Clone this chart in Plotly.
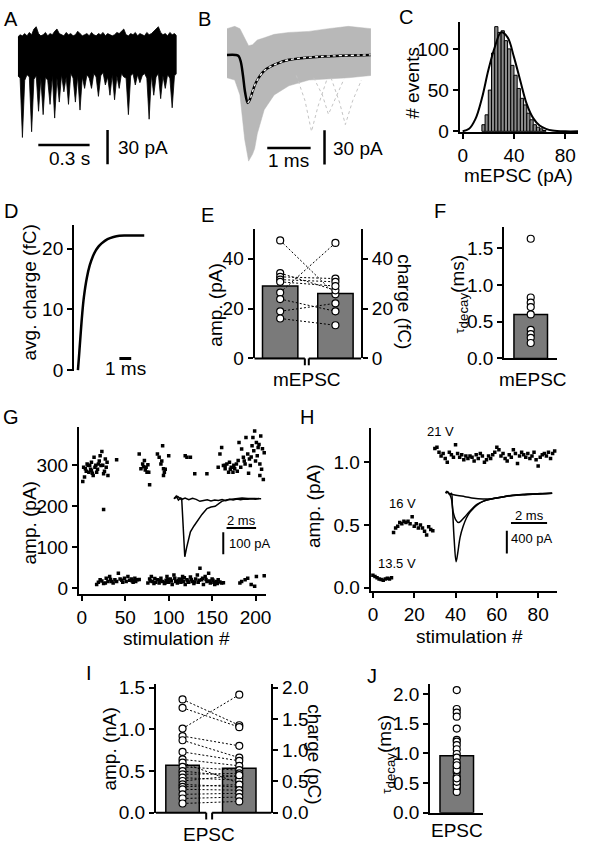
import plotly.graph_objects as go

W, H = 589, 853
FONT = "Liberation Sans, Arial, Helvetica, sans-serif"

# ================= DATA =================
# A: continuous recording (envelope of the noisy trace); time step in s, current in pA
A_DT = 0.93 / 69
A_UPPER = [14,16,15,17,15,18,16,21,23,17,15,16,18,15,17,16,19,21,17,16,
           15,18,16,17,15,16,19,17,15,16,17,15,18,16,15,17,16,18,15,17,
           16,15,16,18,17,19,21,16,15,17,16,18,15,17,16,15,18,16,17,19,
           21,23,18,16,17,15,18,16,17,15]
A_LOWER = [-20,-22,-74,-24,-19,-21,-69,-23,-20,-51,-22,-54,-21,-24,-45,-20,-57,-22,-43,-19,
           -34,-21,-45,-18,-22,-43,-20,-50,-21,-31,-19,-22,-31,-18,-21,-38,-20,-17,-28,-21,
           -37,-19,-41,-20,-31,-18,-21,-22,-54,-20,-18,-28,-19,-26,-20,-18,-22,-58,-19,-37,
           -21,-18,-40,-20,-31,-19,-22,-48,-20,-18]

# B: overlaid mEPSCs (ms, pA)
B_ENV_T = [0, 0.18, 0.30, 0.41, 0.50, 0.59, 0.64, 0.70, 0.86, 1.09, 1.43, 1.89, 2.34, 2.80, 3.32]
B_ENV_UP = [23, 25, 23, 15, 8, 9, 11, 13, 15, 18, 19.7, 20.6, 23, 25, 23]
B_ENV_LO = [-20, -22, -35, -74, -93, -87, -82, -69, -48, -35, -27, -22, -21, -20, -18]
B_MEAN_T = [0, 0.20, 0.27, 0.32, 0.37, 0.42, 0.48, 0.53, 0.60, 0.675, 0.864, 1.13, 1.43, 2.18, 3.32]
B_MEAN_I = [0, 0, -1, -6, -18, -33, -42, -39, -31, -23.7, -13.7, -8, -4.3, -1.4, 0]
B_FIT_T = [0.48, 0.53, 0.60, 0.675, 0.864, 1.13, 1.43, 2.18, 3.32]
B_FIT_I = [-42, -39, -31, -23.7, -13.7, -8, -4.3, -1.4, 0]
B_EVENTS = [
    ([1.60, 1.80, 1.95, 2.10, 2.30], [-18, -40, -67, -45, -22]),
    ([2.00, 2.20, 2.34, 2.50, 2.70], [-20, -35, -52, -38, -21]),
    ([2.40, 2.60, 2.73, 2.90, 3.10], [-20, -42, -61, -40, -22]),
]

# C: amplitude histogram
C_BIN = [16.25, 18.75, 21.25, 23.75, 26.25, 28.75, 31.25, 33.75, 36.25, 38.75,
         41.25, 43.75, 46.25, 48.75, 51.25, 53.75, 56.25, 58.75, 61.25, 63.75]
C_COUNT = [8, 20, 50, 95, 127, 120, 122, 110, 100, 80, 68, 52, 40, 32, 22, 14, 8, 5, 3, 1]
C_FIT_X = [0, 5, 10, 15, 20, 25, 30, 35, 40, 45, 50, 55, 60, 65, 70, 80, 90]
C_FIT_Y = [0, 3, 15, 40, 74, 102, 120, 114, 90, 61, 33, 16, 7, 3, 1, 0, 0]

# D: average charge (ms, fC)
D_T = [0, 0.1, 0.2, 0.35, 0.5, 0.75, 1.0, 1.25, 1.5, 1.75, 2.0, 2.5, 3.0, 3.5, 4.0, 5.6]
D_Q = [0, 2.5, 5.2, 9, 12, 15.2, 17.3, 18.7, 19.7, 20.4, 20.9, 21.6, 21.95, 22.15, 22.2, 22.2]

# E: mEPSC amplitude (pA) and charge (fC) per cell
E_AMP = [47.3, 34.2, 32.7, 31.6, 30.7, 26.4, 23.8, 18.9, 16.0]
E_CHARGE = [25.7, 27.3, 32.0, 30.7, 29.0, 46.3, 18.9, 22.1, 13.3]
E_MEAN = [29, 26]
E_SEM = [2.8, 3.0]

# F: mEPSC decay (ms)
F_TAU = [1.63, 0.83, 0.76, 0.70, 0.60, 0.39, 0.33, 0.28, 0.21]
F_MEAN, F_SEM = 0.6, 0.08

# G: minimal stimulation (stim #, pA)
G_POINTS = [(1,260),(3,271),(4,291),(6,303),(8,283),(9,299),(11,307),(11,287),(13,275),(15,295),
            (14,319),(17,283),(19,303),(21,323),(23,333),(22,299),(25,279),(27,315),(28,295),(30,275),
            (29,307),(25,192),(40,313),(66,327),(68,291),(70,303),(72,311),(74,295),(75,283),(76,301),
            (77,283),(78,252),(87,327),(89,319),(91,303),(93,347),(94,291),(95,283),(94,275),(100,323),
            (119,323),(121,319),(125,319),(130,279),(144,279),(159,327),(161,343),(157,295),(163,299),(165,291),
            (167,303),(169,283),(170,307),(172,295),(174,283),(176,291),(178,303),(180,311),(181,355),(184,339),
            (186,319),(188,303),(189,367),(191,327),(193,315),(194,299),(196,347),(197,367),(199,383),(201,355),
            (202,323),(203,343),(205,275),(206,371),(205,303),
            (2,295),(5,285),(7,300),(10,290),(12,280),(16,300),(18,290),(20,310),(24,300),(26,285),
            (165,300),(171,290),(175,300),(179,285),(183,295),(187,310),(192,280),(195,320),(198,335),
            (200,310),(204,350),(208,340),(207,290),(209,265),(210,330),(73,288),(71,296),(96,290),(92,310),
            (17,9.5),(19,15),(21,21),(27,13.5),(28,25),(30,17),(32,29),(34,17),(36,13.5),(38,21),
            (40,17),(42,37),(44,23),(47,15),(49,25),(51,17),(53,29),(55,20),(57,23),(59,15),
            (61,25),(62,17),(64,21),(76,13.5),(78,23),(80,29),(81,17),(83,12),(85,15),(87,21),
            (89,13.5),(91,25),(93,17),(95,12),(97,20),(98,29),(100,15),(102,23),(104,9.5),(106,33),
            (108,17),(110,13.5),(112,23),(114,15),(116,29),(117,17),(119,9.5),(121,21),(123,15),(125,28),
            (127,17),(129,12),(131,23),(133,33),(134,15),(136,49),(138,21),(140,9.5),(142,29),(144,17),
            (146,37),(148,13.5),(150,23),(152,15),(153,9.5),(155,17),(157,21),(161,13.5),(182,13.5),(184,17),
            (188,21),(191,25),(195,9.5),(199,5.5),(201,29),(210,31),
            (23,18),(25,12),(33,22),(46,20),(58,18),(66,22),(79,18),(84,24),(90,19),(96,14),
            (99,22),(103,18),(107,25),(111,19),(115,21),(118,26),(122,18),(126,22),(130,16),(135,20),
            (139,25),(143,22),(147,18),(151,20),(156,12),(159,16),(163,14)]
# G inset (ms, pA)
GI_EPSC_T = [0, 0.15, 0.3, 0.45, 0.52, 0.62, 0.73, 0.85, 1.11, 1.35, 1.56, 1.89, 2.23, 2.5, 2.78, 3.0, 3.23, 3.6, 4.1, 4.6, 5.0, 5.5, 5.9]
GI_EPSC_I = [0, 12, -6, 3, 0, -130, -266, -225, -152, -125, -102, -72, -45, -38, -35, -25, -12, -5, 0, 3, 1, 2, 0]
GI_FAIL_T = [0, 0.25, 0.5, 0.75, 1.0, 1.25, 1.5, 1.75, 2.0, 2.25, 2.5, 2.75, 3.0, 3.25, 3.5, 3.75, 4.0, 4.25, 4.5, 4.75, 5.0, 5.25, 5.5, 5.75]
GI_FAIL_I = [0, 10, -4, 3, -5, 2, -3, -12, -8, -5, -10, -6, -8, -4, -9, -3, -6, -2, -5, -1, -3, 0, -2, 1]

# H: increasing stimulation strength (nA)
H_AMP_13V = [0.10, 0.09, 0.08, 0.07, 0.065, 0.06, 0.07, 0.075, 0.07, 0.08]
H_AMP_16V = [0.44, 0.475, 0.49, 0.52, 0.51, 0.53, 0.52, 0.53, 0.51, 0.565,
             0.49, 0.51, 0.475, 0.50, 0.475, 0.45, 0.42, 0.485, 0.465, 0.455]
H_AMP_21V = [1.11, 1.12, 1.08, 1.05, 1.07, 1.03, 1.00, 1.08, 1.06, 1.04,
             1.14, 1.07, 1.04, 1.06, 1.02, 1.05, 1.03, 1.05, 1.04, 1.01,
             1.06, 1.03, 1.07, 1.05, 1.00, 1.02, 1.05, 1.03, 1.06, 1.08,
             1.12, 1.10, 1.05, 1.07, 1.03, 1.01, 1.06, 1.04, 1.10, 1.07,
             0.99, 1.05, 1.08, 1.06, 1.04, 1.07, 1.03, 1.05, 1.08, 1.02,
             0.97, 1.04, 1.06, 1.07, 1.05, 1.08, 1.03, 1.07, 1.09]
# H inset (ms, pA)
HI_BIG_T = [-0.05, 0, 0.15, 0.25, 0.3, 0.4, 0.51, 0.6, 0.73, 0.9, 1.09, 1.28, 1.46, 1.7, 2.0, 2.4, 2.91, 3.4, 3.83, 4.3, 4.74, 5.3, 5.83]
HI_BIG_I = [0, 30, -20, 0, -200, -800, -1200, -1050, -772, -580, -429, -330, -268, -200, -143, -105, -74, -50, -34, -25, -17, -8, 0]
HI_MED_T = [-0.05, 0, 0.15, 0.25, 0.35, 0.5, 0.65, 0.8, 1.0, 1.28, 1.64, 2.0, 2.4, 2.91, 3.4, 3.83, 4.3, 4.74, 5.3, 5.83]
HI_MED_I = [0, 30, -20, -100, -330, -470, -515, -480, -410, -310, -200, -143, -105, -74, -50, -34, -25, -17, -8, 0]
HI_FAIL_T = [-0.05, 0, 0.15, 0.3, 0.6, 1.0, 1.5, 2.0, 2.5, 3.0, 3.5, 4.0, 4.5, 5.0, 5.5, 5.83]
HI_FAIL_I = [0, 30, -10, -20, -40, -60, -90, -100, -95, -70, -40, -25, -15, -8, -3, 0]

# I: EPSC amplitude (nA) and charge (pC)
I_AMP = [1.36, 1.26, 1.01, 0.92, 0.87, 0.73, 0.64, 0.60, 0.55, 0.50, 0.46, 0.42, 0.38, 0.34, 0.31, 0.28, 0.22, 0.17, 0.11]
I_CHARGE = [1.40, 1.37, 1.89, 1.07, 0.88, 0.83, 0.75, 0.47, 0.68, 0.57, 0.63, 0.52, 0.60, 0.41, 0.45, 0.36, 0.31, 0.25, 0.18]
I_MEAN_AMP, I_SEM_AMP = 0.57, 0.08
I_MEAN_CHARGE, I_SEM_CHARGE = 0.71, 0.1
I_AXIS_RATIO = 2.0 / 1.5   # right axis (pC) per left axis (nA)

# J: EPSC decay (ms)
J_TAU = [2.07, 1.75, 1.69, 1.62, 1.42, 1.23, 1.20, 1.14, 1.07, 0.99, 0.93, 0.85, 0.77, 0.68,
         0.61, 0.55, 0.48, 0.41, 0.35, 0.45, 0.52, 0.58, 0.72, 0.80]
J_MEAN, J_SEM = 0.96, 0.09

# ================= helpers =================
def xd(a, b):
    return [a / W, b / W]

def yd(top, bot):
    return [1 - bot / H, 1 - top / H]

BASE = dict(showgrid=False, zeroline=False, fixedrange=True)
LINE = dict(showline=True, linewidth=2, linecolor="black", ticks="outside", ticklen=5,
            tickwidth=2, tickcolor="black", tickfont=dict(family=FONT, size=19, color="black"))
HID = dict(visible=False)

def pann(text, x, y, size=19, angle=0, xanchor="center"):
    return dict(text=text, x=x / W, y=1 - y / H, xref="paper", yref="paper", showarrow=False,
                font=dict(family=FONT, size=size, color="black"), textangle=angle,
                xanchor=xanchor, yanchor="middle")

def dann(text, x, y, xa, ya, size=19, xanchor="center"):
    return dict(text=text, x=x, y=y, xref=xa, yref=ya, showarrow=False,
                font=dict(family=FONT, size=size, color="black"), xanchor=xanchor, yanchor="middle")

def seg(x0, y0, x1, y1, xa, ya, width=2.5):
    return dict(type="line", x0=x0, y0=y0, x1=x1, y1=y1, xref=xa, yref=ya,
                line=dict(color="black", width=width))

def pseg(x0, y0, x1, y1, width=2):
    return dict(type="line", x0=x0 / W, y0=1 - y0 / H, x1=x1 / W, y1=1 - y1 / H,
                xref="paper", yref="paper", line=dict(color="black", width=width))

fig = go.Figure()
shapes, anns = [], []

# ---- A ----
A_T = [i * A_DT for i in range(len(A_UPPER))]
fig.add_trace(go.Scatter(x=A_T + A_T[::-1], y=A_UPPER + A_LOWER[::-1], fill="toself",
                         fillcolor="black", line=dict(color="black", width=0.8),
                         mode="lines", xaxis="x", yaxis="y"))
shapes += [seg(0.12, -80.6, 0.42, -80.6, "x", "y"), seg(0.525, -67.5, 0.525, -97.5, "x", "y")]
anns += [dann("0.3 s", 0.30, -92.6, "x", "y"), dann("30 pA", 0.577, -83, "x", "y", xanchor="left")]

# ---- B ----
fig.add_trace(go.Scatter(x=B_ENV_T + B_ENV_T[::-1], y=B_ENV_UP + B_ENV_LO[::-1], fill="toself",
                         fillcolor="#b8b8b8", line=dict(color="#b8b8b8", width=0.5),
                         mode="lines", xaxis="x2", yaxis="y2"))
for et, ei in B_EVENTS:
    fig.add_trace(go.Scatter(x=et, y=ei, mode="lines", line=dict(color="#c4c4c4", width=1, dash="dot"),
                             xaxis="x2", yaxis="y2"))
fig.add_trace(go.Scatter(x=B_MEAN_T, y=B_MEAN_I, mode="lines", line=dict(color="black", width=2.5, shape="spline"),
                         xaxis="x2", yaxis="y2"))
fig.add_trace(go.Scatter(x=B_FIT_T, y=B_FIT_I, mode="lines",
                         line=dict(color="white", width=1.3, dash="3px,3px", shape="spline"),
                         xaxis="x2", yaxis="y2"))
shapes += [seg(0.93, -81.4, 1.93, -81.4, "x2", "y2"), seg(2.25, -66, 2.25, -96, "x2", "y2")]
anns += [dann("1 ms", 1.43, -92.6, "x2", "y2"), dann("30 pA", 2.41, -82, "x2", "y2", xanchor="left")]

# ---- C ----
fig.add_trace(go.Bar(x=C_BIN, y=C_COUNT, width=2.5, marker=dict(color="#8a8a8a", line=dict(color="black", width=1)),
                     xaxis="x3", yaxis="y3"))
fig.add_trace(go.Scatter(x=C_FIT_X, y=C_FIT_Y, mode="lines", line=dict(color="black", width=2, shape="spline"),
                         xaxis="x3", yaxis="y3"))

# ---- D ----
fig.add_trace(go.Scatter(x=D_T, y=D_Q, mode="lines", line=dict(color="black", width=2.5, shape="spline"),
                         xaxis="x4", yaxis="y4"))
shapes += [seg(3.5, 1.94, 4.5, 1.94, "x4", "y4", 3)]
anns += [dann("1 ms", 4.0, 0.25, "x4", "y4")]

# ---- E ----
BAR_STYLE = dict(color="#7a7a7a", line=dict(color="black", width=1.5))
def err(v):
    return dict(type="data", array=[v], arrayminus=[0], symmetric=False, color="black", thickness=1.5, width=0)

fig.add_trace(go.Bar(x=[0], y=[E_MEAN[0]], width=0.64, marker=BAR_STYLE, error_y=err(E_SEM[0]),
                     xaxis="x5", yaxis="y5"))
fig.add_trace(go.Bar(x=[1], y=[E_MEAN[1]], width=0.64, marker=BAR_STYLE, error_y=err(E_SEM[1]),
                     xaxis="x5", yaxis="y5"))
ex, ey = [], []
for a, c in zip(E_AMP, E_CHARGE):
    ex += [0, 1, None]
    ey += [a, c, None]
fig.add_trace(go.Scatter(x=ex, y=ey, mode="lines", line=dict(color="black", width=1, dash="2px,2px"),
                         xaxis="x5", yaxis="y5"))
MK = dict(symbol="circle", size=7, color="white", line=dict(color="black", width=1.2))
fig.add_trace(go.Scatter(x=[0] * len(E_AMP), y=E_AMP, mode="markers", marker=MK, xaxis="x5", yaxis="y5"))
fig.add_trace(go.Scatter(x=[1] * len(E_CHARGE), y=E_CHARGE, mode="markers", marker=MK, xaxis="x5", yaxis="y6"))

# ---- F ----
fig.add_trace(go.Bar(x=[0], y=[F_MEAN], width=0.63, marker=BAR_STYLE, error_y=err(F_SEM),
                     xaxis="x6", yaxis="y7"))
fig.add_trace(go.Scatter(x=[0] * len(F_TAU), y=F_TAU, mode="markers", marker=MK, xaxis="x6", yaxis="y7"))

# ---- G ----
fig.add_trace(go.Scatter(x=[p[0] for p in G_POINTS], y=[p[1] for p in G_POINTS], mode="markers",
                         marker=dict(symbol="square", size=3.5, color="black"), xaxis="x7", yaxis="y8"))
fig.add_trace(go.Scatter(x=GI_FAIL_T, y=GI_FAIL_I, mode="lines", line=dict(color="black", width=1.5),
                         xaxis="x8", yaxis="y9"))
fig.add_trace(go.Scatter(x=GI_EPSC_T, y=GI_EPSC_I, mode="lines", line=dict(color="black", width=1.5),
                         xaxis="x8", yaxis="y9"))
shapes += [seg(3.55, -134.5, 5.55, -134.5, "x8", "y9", 2), seg(3.33, -154, 3.33, -254, "x8", "y9", 2)]
anns += [dann("2 ms", 4.55, -98, "x8", "y9", 13), dann("100 pA", 3.55, -204, "x8", "y9", 13, "left")]

# ---- H ----
h_amp = H_AMP_13V + H_AMP_16V + H_AMP_21V
fig.add_trace(go.Scatter(x=list(range(len(h_amp))), y=h_amp, mode="markers",
                         marker=dict(symbol="square", size=3.5, color="black"), xaxis="x9", yaxis="y10"))
for tt, ii in [(HI_FAIL_T, HI_FAIL_I), (HI_MED_T, HI_MED_I), (HI_BIG_T, HI_BIG_I)]:
    fig.add_trace(go.Scatter(x=tt, y=ii, mode="lines", line=dict(color="black", width=1.5, shape="spline"),
                             xaxis="x10", yaxis="y11"))
shapes += [seg(3.55, -520, 5.55, -520, "x10", "y11", 2), seg(3.32, -657, 3.32, -1057, "x10", "y11", 2)]
anns += [dann("2 ms", 4.55, -385, "x10", "y11", 13), dann("400 pA", 3.45, -800, "x10", "y11", 13, "left")]
anns += [dann("21 V", 32.6, 1.245, "x9", "y10", 13), dann("16 V", 14.3, 0.675, "x9", "y10", 13),
         dann("13.5 V", 11.9, 0.19, "x9", "y10", 13)]

# ---- I ----
fig.add_trace(go.Bar(x=[0], y=[I_MEAN_AMP], width=0.59, marker=BAR_STYLE, error_y=err(I_SEM_AMP),
                     xaxis="x11", yaxis="y12"))
fig.add_trace(go.Bar(x=[1], y=[I_MEAN_CHARGE / I_AXIS_RATIO], width=0.59, marker=BAR_STYLE,
                     error_y=err(I_SEM_CHARGE / I_AXIS_RATIO), xaxis="x11", yaxis="y12"))
ix, iy = [], []
for a, c in zip(I_AMP, I_CHARGE):
    ix += [0, 1, None]
    iy += [a, c / I_AXIS_RATIO, None]
fig.add_trace(go.Scatter(x=ix, y=iy, mode="lines", line=dict(color="black", width=1, dash="2px,2px"),
                         xaxis="x11", yaxis="y12"))
fig.add_trace(go.Scatter(x=[0] * len(I_AMP), y=I_AMP, mode="markers", marker=MK, xaxis="x11", yaxis="y12"))
fig.add_trace(go.Scatter(x=[1] * len(I_CHARGE), y=[c / I_AXIS_RATIO for c in I_CHARGE], mode="markers",
                         marker=MK, xaxis="x11", yaxis="y12"))
fig.add_trace(go.Scatter(x=[], y=[], xaxis="x11", yaxis="y13"))

# ---- J ----
fig.add_trace(go.Bar(x=[0], y=[J_MEAN], width=0.63, marker=BAR_STYLE, error_y=err(J_SEM),
                     xaxis="x12", yaxis="y14"))
fig.add_trace(go.Scatter(x=[0] * len(J_TAU), y=J_TAU, mode="markers", marker=MK, xaxis="x12", yaxis="y14"))

# ---- broken x axes (E, I) ----
shapes += [pseg(255, 359, 306, 359), pseg(310, 359, 363, 359), pseg(306, 359, 306, 366), pseg(310, 359, 310, 366)]
shapes += [pseg(155, 823, 206, 823), pseg(212, 823, 272, 823), pseg(206, 823, 206, 830), pseg(212, 823, 212, 830)]

# ---- titles & panel letters ----
tau = "<span style='font-size:13px'>τ</span><sub>decay</sub>(ms)"
anns += [
    pann("# events", 415, 77, angle=-90), pann("mEPSC (pA)", 523, 172),
    pann("avg. charge (fC)", 27, 292, angle=-90),
    pann("amp. (pA)", 215, 305, angle=-90), pann("charge (fC)", 407, 301, angle=90),
    pann("mEPSC", 308, 381), pann("mEPSC", 537, 381),
    pann(tau, 462, 293, angle=-90),
    pann("amp. (pA)", 27, 527, angle=-90), pann("stimulation #", 176, 645),
    pann("amp. (pA)", 315, 510, angle=-90), pann("stimulation #", 473, 643),
    pann("amp. (nA)", 107, 758, angle=-90), pann("charge (pC)", 315, 763, angle=90),
    pann("EPSC", 209, 845), pann("EPSC", 460, 841),
    pann(tau, 388, 763, angle=-90),
]
for letter, x, y in [("A", 8, 12), ("B", 204, 12), ("C", 409, 10), ("D", 8, 208), ("E", 207, 212),
                     ("F", 443, 208), ("G", 8, 419), ("H", 308, 419), ("I", 87, 680), ("J", 374, 683)]:
    anns.append(pann(letter, x, y, size=20))

layout = dict(
    width=W, height=H, margin=dict(l=0, r=0, t=0, b=0), paper_bgcolor="white", plot_bgcolor="rgba(0,0,0,0)",
    showlegend=False, barmode="overlay", font=dict(family=FONT, color="black"),
    shapes=shapes, annotations=anns,
    # A
    xaxis=dict(BASE, **HID, domain=xd(15, 176), range=[0, 0.929], anchor="y"),
    yaxis=dict(BASE, **HID, domain=yd(15, 162), range=[-98.6, 27.4], anchor="x"),
    # B
    xaxis2=dict(BASE, **HID, domain=xd(227, 373), range=[0, 3.32], anchor="y2"),
    yaxis2=dict(BASE, **HID, domain=yd(15, 162), range=[-96.9, 29.1], anchor="x2"),
    # C
    xaxis3=dict(BASE, **LINE, domain=xd(463, 583), range=[-2.3, 90], tickvals=[0, 40, 80], anchor="y3"),
    yaxis3=dict(BASE, **LINE, domain=yd(15, 128), range=[-1.2, 133], tickvals=[0, 50, 100], anchor="x3"),
    # D
    xaxis4=dict(BASE, **HID, domain=xd(72, 145), range=[-0.33, 5.75], anchor="y4"),
    yaxis4=dict(BASE, **LINE, domain=yd(223, 372), range=[-0.16, 23.87], tickvals=[0, 10, 20], anchor="x4"),
    # E
    xaxis5=dict(BASE, **HID, domain=xd(255, 363), range=[-0.464, 1.464], anchor="y5"),
    yaxis5=dict(BASE, **LINE, domain=yd(227, 359), range=[0, 51.8], tickvals=[0, 20, 40], anchor="x5"),
    yaxis6=dict(BASE, **LINE, range=[0, 51.8], tickvals=[0, 20, 40], anchor="x5", overlaying="y5", side="right"),
    # F
    xaxis6=dict(BASE, showline=True, linewidth=2, linecolor="black", showticklabels=False, ticks="",
                domain=xd(508, 562), range=[-0.5, 0.5], anchor="y7"),
    yaxis7=dict(BASE, **LINE, domain=yd(225, 359), range=[0, 1.787], tickvals=[0, 0.5, 1.0, 1.5],
                ticktext=["0.0", "0.5", "1.0", "1.5"], anchor="x6"),
    # G
    xaxis7=dict(BASE, **LINE, domain=xd(77, 267), range=[-3.4, 212.5], tickvals=[0, 50, 100, 150, 200], anchor="y8"),
    yaxis8=dict(BASE, **LINE, domain=yd(429, 600), range=[-14.3, 392.9], tickvals=[0, 100, 200, 300], anchor="x7"),
    xaxis8=dict(BASE, **HID, domain=xd(172, 262), range=[-0.09, 5.91], anchor="y9"),
    yaxis9=dict(BASE, **HID, domain=yd(495, 570), range=[-303.6, 32.7], anchor="x8"),
    # H
    xaxis9=dict(BASE, **LINE, domain=xd(372.7, 562), range=[-1.1, 89.3], tickvals=[0, 20, 40, 60, 80], anchor="y10"),
    yaxis10=dict(BASE, **LINE, domain=yd(430, 597), range=[-0.029, 1.273], tickvals=[0, 0.5, 1.0],
                 ticktext=["0.0", "0.5", "1.0"], anchor="x9"),
    xaxis10=dict(BASE, **HID, domain=xd(448, 560), range=[-0.11, 6.01], anchor="y11"),
    yaxis11=dict(BASE, **HID, domain=yd(490, 570), range=[-1257, 115], anchor="x10"),
    # I
    xaxis11=dict(BASE, **HID, domain=xd(155, 272), range=[-0.47, 1.565], anchor="y12"),
    yaxis12=dict(BASE, **LINE, domain=yd(692, 823), range=[0, 1.541], tickvals=[0, 0.5, 1.0, 1.5],
                 ticktext=["0.0", "0.5", "1.0", "1.5"], anchor="x11"),
    yaxis13=dict(BASE, **LINE, range=[0, 2.055], tickvals=[0, 0.5, 1.0, 1.5, 2.0],
                 ticktext=["0.0", "0.5", "1.0", "1.5", "2.0"], anchor="x11", overlaying="y12", side="right"),
    # J
    xaxis12=dict(BASE, showline=True, linewidth=2, linecolor="black", showticklabels=False, ticks="",
                 domain=xd(433, 487), range=[-0.5, 0.5], anchor="y14"),
    yaxis14=dict(BASE, **LINE, domain=yd(692, 823), range=[0, 2.165], tickvals=[0, 0.5, 1.0, 1.5, 2.0],
                 ticktext=["0.0", "0.5", "1.0", "1.5", "2.0"], anchor="x12"),
)
fig.update_layout(**layout)
fig.write_html("out.html", config={"displayModeBar": False, "responsive": False},
               post_script="document.body.style.margin='0';document.body.style.overflow='hidden';")
